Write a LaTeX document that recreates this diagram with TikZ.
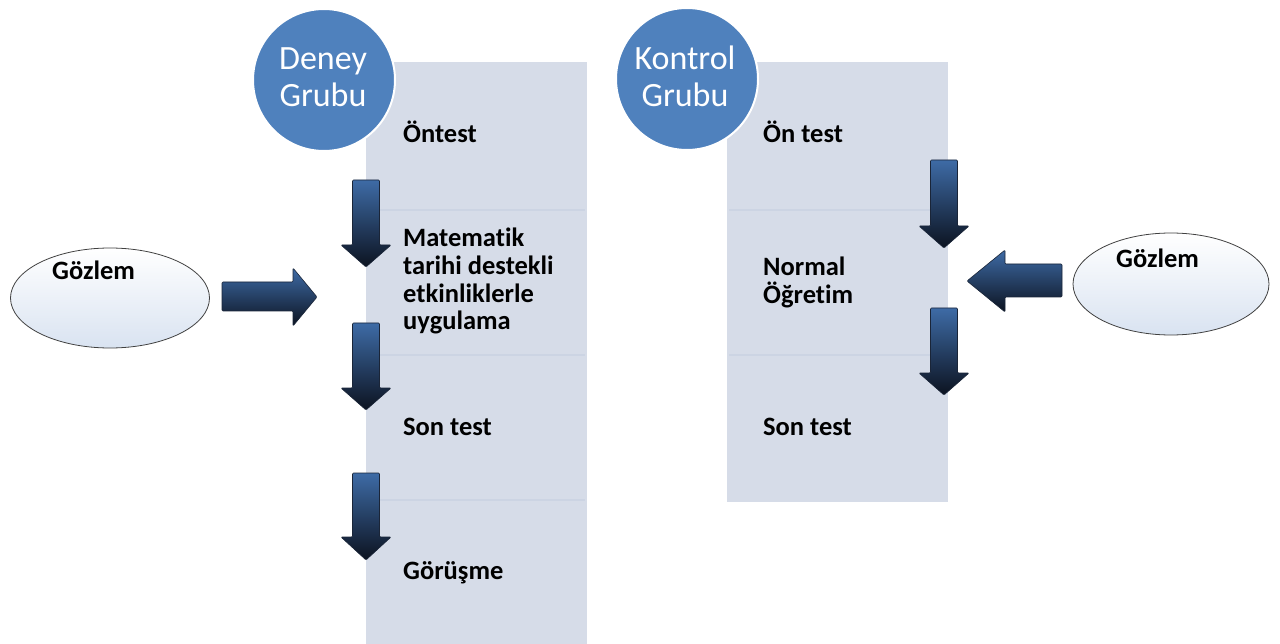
\documentclass[tikz,border=0pt]{standalone}
\usepackage{fontspec}
\setmainfont[Ligatures=NoCommon]{Carlito}
\usetikzlibrary{shapes.geometric}
\definecolor{panel}{HTML}{D6DCE8}
\definecolor{panelline}{HTML}{CCD4E3}
\definecolor{circblue}{HTML}{4F81BD}
\definecolor{arrtop}{HTML}{3E6BA6}
\definecolor{arrbot}{HTML}{0C1320}
\definecolor{arredge}{HTML}{1A2538}
\definecolor{ellbot}{HTML}{D9E3F1}
\tikzset{
  panelbox/.style={fill=panel, draw=none},
  divider/.style={draw=panelline, line width=2pt},
  groupcirc/.style={circle, fill=circblue, draw=white, line width=2pt, minimum size=142pt, inner sep=0pt},
  grouptext/.style={text=white, font=\fontsize{34}{40}\selectfont, align=center},
  label/.style={anchor=base west, font=\bfseries\fontsize{26.5}{28}\selectfont, align=left, inner sep=0pt},
  obsell/.style={ellipse, top color=white, bottom color=ellbot, draw=black!75, line width=0.8pt, inner sep=0pt},
  blockarrow/.style={top color=arrtop, bottom color=arrbot, draw=arredge, line width=0.6pt, line join=round, rounded corners=1pt}
}
\newcommand\dnarrow[4]{\draw[blockarrow] (#1-13.5,#2) -- (#1+13.5,#2) -- (#1+13.5,#3) -- (#1+25,#3) -- (#1,#4) -- (#1-25,#3) -- (#1-13.5,#3) -- cycle;}
\begin{document}
\begin{tikzpicture}[x=1pt,y=-1pt]
\useasboundingbox (0,0) rectangle (1280,644);
% panels
\fill[panelbox] (366,62) rectangle (587,650);
\draw[divider] (368,210) -- (585,210);
\draw[divider] (368,355) -- (585,355);
\draw[divider] (368,500) -- (585,500);
\fill[panelbox] (727,62) rectangle (948,502);
\draw[divider] (729,210) -- (946,210);
\draw[divider] (729,355) -- (946,355);
% group circles
\node[groupcirc] (deney) at (324,80) {};
\node[grouptext, anchor=base] (deneyt1) at (323,70) {Deney};
\node[grouptext, anchor=base] (deneyt2) at (323,107) {Grubu};
\node[groupcirc] (kontrol) at (687,79) {};
\node[grouptext, anchor=base] (kontrolt1) at (685,70) {Kontrol};
\node[grouptext, anchor=base] (kontrolt2) at (685,107) {Grubu};
% left column labels
\node[label] (ontest) at (403,143) {Öntest};
\node[label] (mat1) at (403,247) {Matematik};
\node[label] (mat2) at (403,275) {tarihi destekli};
\node[label] (mat3) at (403,303) {etkinliklerle};
\node[label] (mat4) at (403,330) {uygulama};
\node[label] (sontestA) at (403,435) {Son test};
\node[label] (gorusme) at (403,579) {Görüşme};
% right column labels
\node[label] (ontestB) at (763,143) {Ön test};
\node[label] (norm1) at (763,276) {Normal};
\node[label] (norm2) at (763,304) {Öğretim};
\node[label] (sontestB) at (763,435) {Son test};
% observation ellipses
\node[obsell, minimum width=199pt, minimum height=100pt] (gozA) at (110,298) {};
\node[label] (gozAt) at (52,280) {Gözlem};
\node[obsell, minimum width=196pt, minimum height=102pt] (gozB) at (1171,284) {};
\node[label] (gozBt) at (1116,268) {Gözlem};
% down arrows left
\dnarrow{366}{180}{245}{267}
\dnarrow{366}{323}{388}{410}
\dnarrow{366}{473}{537}{560}
% down arrows right
\dnarrow{944}{160}{226}{248}
\dnarrow{944}{308}{373}{395}
% horizontal arrows
\draw[blockarrow] (222,282) -- (293,282) -- (293,268) -- (317,297) -- (293,326) -- (293,311) -- (222,311) -- cycle;
\draw[blockarrow] (1062,264) -- (1005,264) -- (1005,250) -- (967,281) -- (1005,312) -- (1005,297) -- (1062,297) -- cycle;
\end{tikzpicture}
\end{document}
